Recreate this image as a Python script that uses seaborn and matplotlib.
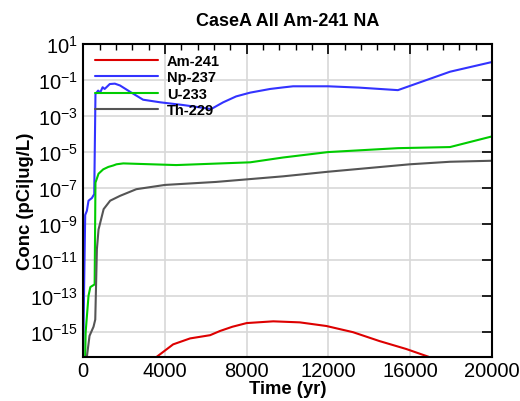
import matplotlib
matplotlib.use("Agg")
import matplotlib.pyplot as plt
import matplotlib.ticker as mticker
import pandas as pd
import seaborn as sns

sns.set_theme(style="white")
plt.rcParams["font.family"] = ["Liberation Sans", "DejaVu Sans"]
plt.rcParams["mathtext.fontset"] = "custom"
plt.rcParams["mathtext.rm"] = "Liberation Sans"
plt.rcParams["mathtext.it"] = "Liberation Sans:italic"
plt.rcParams["mathtext.bf"] = "Liberation Sans:bold"
plt.rcParams["text.color"] = "black"
plt.rcParams["axes.labelcolor"] = "black"

# values (time in yr, conc in pCi|ug/L)
am_t = [3600, 4400, 5230, 6210, 6700, 7300, 8000, 9300, 10600, 11900, 13200,
        14500, 15800, 16900]
am_c = [4.3e-17, 2.1e-16, 4.5e-16, 6.8e-16, 1.17e-15, 2.0e-15, 3.2e-15,
        4.0e-15, 3.5e-15, 2.2e-15, 1.0e-15, 3.2e-16, 1.17e-16, 4.3e-17]

np_t = [0, 49, 98, 180, 260, 425, 505, 540, 600, 730, 830, 950, 1050, 1300,
        1550, 1800, 2300, 2930, 3770, 4890, 6020, 6260, 6850, 7480, 8170,
        9150, 9780, 10270, 11980, 13500, 15400, 17950, 20000]
np_c = [4.3e-17, 6.3e-13, 3.2e-9, 5.5e-9, 2e-8, 2.8e-8, 4e-8, 4.5e-8, 1.66e-2,
        2.6e-2, 2e-2, 4e-2, 3.2e-2, 6e-2, 6.3e-2, 5e-2, 2.2e-2, 8.1e-3,
        5.8e-3, 4.1e-3, 2.7e-3, 2.45e-3, 5.8e-3, 1.23e-2, 2.0e-2, 3.2e-2,
        3.9e-2, 4.5e-2, 4.5e-2, 3.8e-2, 2.75e-2, 0.29, 1.0]

u_t = [98, 120, 260, 350, 560, 600, 750, 980, 1230, 1470, 1630, 1960, 4550,
       8170, 9780, 11980, 15400, 17950, 20000]
u_c = [4.3e-17, 1e-15, 1.05e-13, 3.2e-13, 4.5e-13, 2e-7, 6.3e-7, 1.1e-6,
       1.5e-6, 1.8e-6, 2.1e-6, 2.35e-6, 1.9e-6, 2.7e-6, 5e-6, 1e-5, 1.65e-5,
       1.9e-5, 7.4e-5]

th_t = [180, 310, 505, 590, 670, 750, 1000, 1320, 1800, 2600, 4000, 6500,
        9780, 11980, 15990, 17950, 20000]
th_c = [4.3e-17, 6.3e-16, 2e-15, 5e-15, 4e-11, 5e-10, 6.8e-9, 2e-8, 3.7e-8,
        8.7e-8, 1.5e-7, 2.2e-7, 4.5e-7, 8.1e-7, 2.1e-6, 2.9e-6, 3.3e-6]

names = ["Am-241", "Np-237", "U-233", "Th-229"]
colors = ["#dd0000", "#3333ff", "#00cc00", "#555555"]

frames = []
for name, t, c in zip(names, [am_t, np_t, u_t, th_t], [am_c, np_c, u_c, th_c]):
    frames.append(pd.DataFrame({"Time": t, "Conc": c, "Nuclide": name}))
df = pd.concat(frames, ignore_index=True)

fig = plt.figure(figsize=(5.2, 4.02), dpi=100)
ax = fig.add_axes([0.16, 0.11, 0.786, 0.778])

sns.lineplot(data=df, x="Time", y="Conc", hue="Nuclide", hue_order=names,
             palette=colors, estimator=None, sort=False, linewidth=1.5, ax=ax)

ax.set_yscale("log")
ax.set_xlim(0, 20000)
ax.set_ylim(4.3e-17, 10)

ax.set_yticks([10.0 ** e for e in range(-15, 2, 2)])
ax.yaxis.set_major_formatter(mticker.LogFormatterSciNotation())
ax.yaxis.set_minor_locator(mticker.NullLocator())
ax.set_xticks(range(0, 20001, 4000))
ax.xaxis.set_minor_locator(mticker.MultipleLocator(800))

ax.grid(True, which="major", color="#d8d8d8", linewidth=1.2)
ax.set_axisbelow(True)
for s in ax.spines.values():
    s.set_color("black")
    s.set_linewidth(1.5)

ax.tick_params(which="both", direction="in", top=True, right=True,
               colors="black", labelsize=14.5)
ax.tick_params(which="major", length=7, width=1.2)
ax.tick_params(which="minor", length=4, width=1.0)
ax.tick_params(axis="x", pad=3)
ax.tick_params(axis="y", pad=4)

ax.set_xlabel("Time (yr)", fontsize=13.3, fontweight="bold", labelpad=0)
ax.set_ylabel("Conc (pCi|ug/L)", fontsize=13.3, fontweight="bold", labelpad=-3)
ax.set_title("CaseA All Am-241 NA", fontsize=13, fontweight="bold", pad=14)

leg = ax.legend(loc="upper left", bbox_to_anchor=(0.029, 0.969), frameon=False,
                handlelength=4.3, prop={"weight": "bold", "size": 10.5},
                labelspacing=0.17, borderaxespad=0, borderpad=0,
                handletextpad=0.62)

fig.savefig("out.png", dpi=100)
